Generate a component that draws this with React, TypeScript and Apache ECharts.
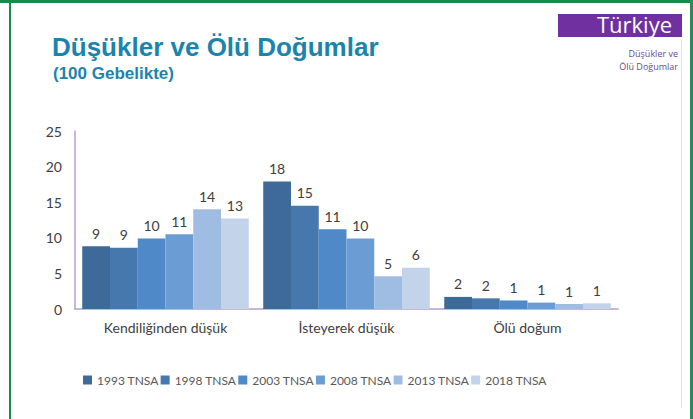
import React, { useEffect, useRef } from "react";
import * as echarts from "echarts";

const categories = ["Kendiliğinden düşük", "İsteyerek düşük", "Ölü doğum"];
const seriesNames = ["1993 TNSA", "1998 TNSA", "2003 TNSA", "2008 TNSA", "2013 TNSA", "2018 TNSA"];
const kendiligindenValues = [8.8, 8.6, 9.9, 10.5, 14.0, 12.7];
const isteyerekValues = [17.9, 14.5, 11.2, 9.9, 4.6, 5.8];
const oluDogumValues = [1.7, 1.5, 1.2, 0.9, 0.7, 0.8];
const colors = ["#3d6a98", "#4677ad", "#5089c7", "#6b9dd4", "#9fbde2", "#c2d3ea"];
const yTicks = [0, 5, 10, 15, 20, 25];

const FONT = "Lato, 'Open Sans', sans-serif";

export default function App() {
  const ref = useRef<HTMLDivElement>(null);
  useEffect(() => {
    if (!ref.current) return;
    const chart = echarts.init(ref.current, undefined, { renderer: "svg" });
    const groups = [kendiligindenValues, isteyerekValues, oluDogumValues];
    const series = seriesNames.map((name, i) => ({
      name,
      type: "bar" as const,
      data: groups.map((g) => g[i]),
      itemStyle: { color: colors[i] },
      barGap: "0%",
      barCategoryGap: "8%",
      label: {
        show: true,
        position: "top" as const,
        distance: 6,
        color: "#404040",
        fontSize: 14,
        fontFamily: FONT,
        formatter: (p: any) => String(Math.round(p.value)),
      },
    }));
    chart.setOption({
      animation: false,
      backgroundColor: "#ffffff",
      title: [
        {
          text: "Düşükler ve Ölü Doğumlar",
          left: 47,
          top: 29,
          textStyle: { color: "#1b84ad", fontSize: 26, fontWeight: "bold", fontFamily: "Arial, 'Liberation Sans', sans-serif" },
        },
        {
          text: "(100 Gebelikte)",
          left: 48,
          top: 60,
          textStyle: { color: "#1b84ad", fontSize: 17, fontWeight: "bold", fontFamily: "Arial, 'Liberation Sans', sans-serif" },
        },
      ],
      graphic: [
        { type: "rect", left: 0, top: 0, shape: { width: 693, height: 3 }, style: { fill: "#1a8a4a" } },
        { type: "rect", left: 9, top: 0, shape: { width: 2, height: 419 }, style: { fill: "#1a8a4a" } },
        { type: "rect", left: 690, top: 0, shape: { width: 3, height: 419 }, style: { fill: "#2a8a5a" } },
        { type: "rect", left: 681, top: 40, shape: { width: 1, height: 368 }, style: { fill: "#e2e2e2" } },
        { type: "rect", left: 558, top: 14, shape: { width: 124, height: 23 }, style: { fill: "#7030a0" } },
        {
          type: "text",
          right: 21,
          top: 13,
          style: { text: "Türkiye", fill: "#ffffff", fontSize: 22, fontFamily: "'Open Sans', sans-serif", align: "right" },
        },
        {
          type: "text",
          right: 15,
          top: 49,
          style: { text: "Düşükler ve", fill: "#6a4a8a", fontSize: 9, fontFamily: "'Open Sans', sans-serif", align: "right" },
        },
        {
          type: "text",
          right: 15,
          top: 62,
          style: { text: "Ölü Doğumlar", fill: "#6a4a8a", fontSize: 9, fontFamily: "'Open Sans', sans-serif", align: "right" },
        },
      ],
      legend: {
        data: seriesNames,
        left: 78,
        top: 369,
        itemWidth: 9,
        itemHeight: 9,
        itemGap: 2,
        icon: "rect",
        textStyle: { color: "#595959", fontSize: 12, fontFamily: FONT },
      },
      grid: { left: 75, right: 75, top: 131, bottom: 110, containLabel: false },
      xAxis: {
        type: "category",
        data: categories,
        axisLine: { lineStyle: { color: "#b4a0cc", width: 1.5 } },
        axisTick: { show: false },
        axisLabel: { color: "#404040", fontSize: 14, fontFamily: FONT, margin: 11 },
      },
      yAxis: {
        type: "value",
        min: yTicks[0],
        max: yTicks[yTicks.length - 1],
        interval: 5,
        axisLine: { show: true, lineStyle: { color: "#b4a0cc", width: 1.5 } },
        axisTick: { show: false },
        splitLine: { show: false },
        axisLabel: { color: "#404040", fontSize: 14, fontFamily: FONT, margin: 13 },
      },
      series,
    });
    return () => chart.dispose();
  }, []);
  return <div ref={ref} style={{ position: "fixed", left: 0, top: 0, width: 693, height: 419 }} />;
}
